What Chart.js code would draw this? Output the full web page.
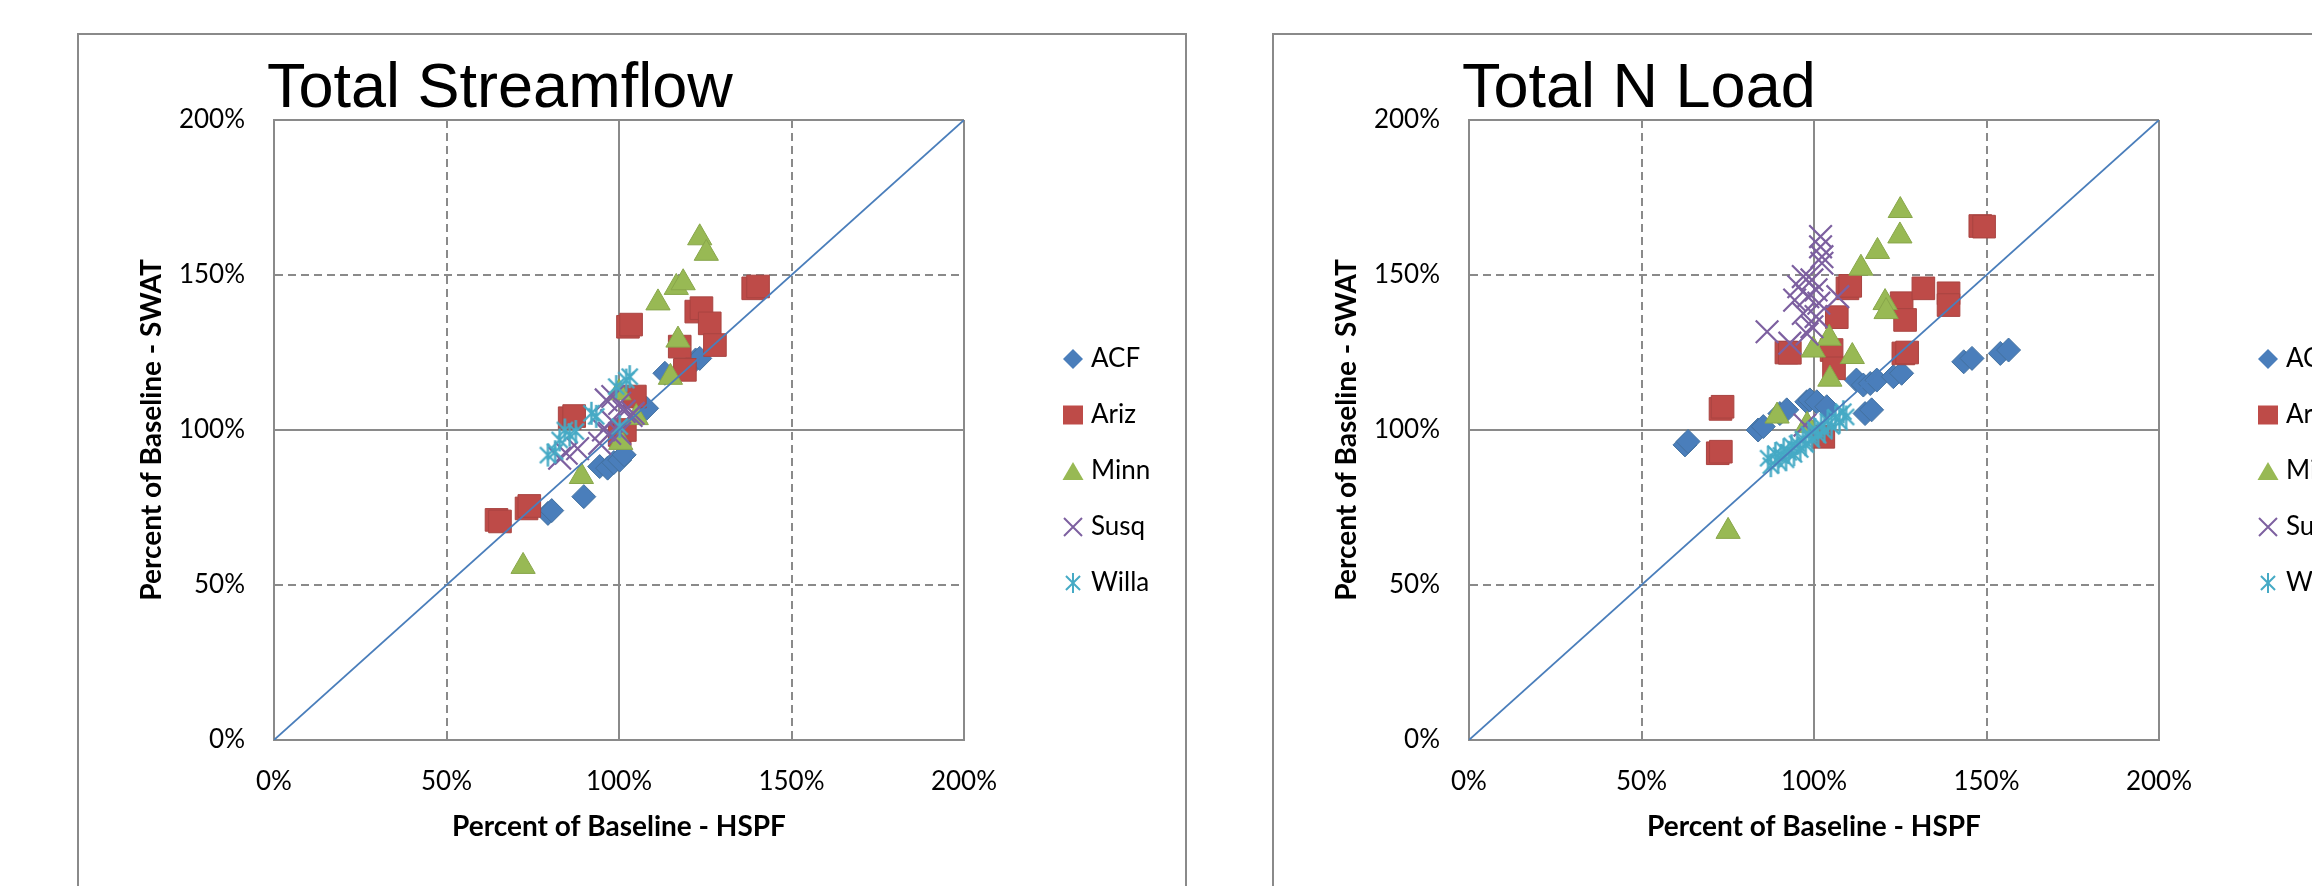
<!DOCTYPE html>
<html>
<head>
<meta charset="utf-8">
<script src="https://cdn.jsdelivr.net/npm/chart.js@4.4.1/dist/chart.umd.min.js"></script>
<style>
  html, body { margin: 0; padding: 0; background: #fff; width: 2312px; height: 886px; overflow: hidden; position: relative; }
  .frame { position: absolute; top: 33px; width: 1110px; height: 900px; border: 2px solid #8a8a8a; box-sizing: border-box; }
  canvas { position: absolute; top: 36px; }
</style>
</head>
<body>
<div class="frame" style="left:77px"></div>
<canvas id="flow" width="1104" height="870" style="left:80px"></canvas>
<div class="frame" style="left:1272px"></div>
<canvas id="nload" width="1104" height="870" style="left:1275px"></canvas>

<script>
// Axis ticks (percent of baseline) shared by both panels
const TICK_VALUES = [0, 50, 100, 150, 200];
const SERIES = ['ACF', 'Ariz', 'Minn', 'Susq', 'Willa'];
const ONE_TO_ONE = [[0, 0], [200, 200]];

// Total streamflow: [HSPF %, SWAT %]
const flowACF = [[79.4,73.1],[80.5,74.0],[89.8,78.5],[94.4,88.2],[96.7,87.7],[98.5,89.5],[100.2,90.3],[101.5,92.0],[106.8,107.8],[108.0,107.0],[113.3,118.3],[122.2,122.6],[123.4,123.1]];
const flowAriz = [[64.5,71.0],[65.5,70.5],[73.2,74.7],[74.0,75.5],[85.7,103.8],[87.0,104.5],[100.2,98.4],[101.7,100.0],[104.6,110.8],[102.6,133.3],[103.5,134.0],[117.6,126.9],[119.1,119.4],[122.4,138.2],[123.9,139.3],[126.3,134.4],[127.8,127.4],[138.9,145.7],[140.3,146.3]];
const flowMinn = [[72.2,56.0],[89.1,85.0],[100.5,96.0],[105.0,104.0],[100.0,112.0],[114.9,117.0],[117.1,129.0],[111.3,141.0],[116.6,146.0],[118.6,147.5],[123.4,162.0],[125.3,157.0]];
const flowSusq = [[82.8,90.9],[84.7,92.5],[88.0,94.0],[94.4,95.7],[95.5,100.0],[97.3,98.9],[100.2,98.9],[96.3,109.7],[98.2,110.8],[100.2,108.6],[101.5,106.0],[104.1,105.4],[103.5,104.7],[97.9,103.0]];
const flowWilla = [[79.4,91.9],[81.5,93.0],[82.8,96.8],[84.3,100.0],[85.7,98.4],[87.5,99.5],[92.0,105.4],[93.4,104.4],[100.2,101.1],[99.2,114.0],[102.1,116.1],[103.1,117.2]];

// Total N load: [HSPF %, SWAT %]
const nloadACF = [[62.6,95.2],[63.5,96.3],[83.8,100.0],[85.3,101.1],[90.1,105.3],[92.1,106.5],[97.9,109.1],[98.8,109.7],[100.8,109.1],[103.7,107.5],[112.3,116.1],[114.3,114.5],[114.8,105.3],[116.7,106.5],[116.3,115.0],[118.2,116.1],[123.0,117.2],[125.4,118.3],[143.4,122.0],[145.8,123.1],[154.0,124.7],[156.4,125.8]];
const nloadAriz = [[72.1,92.5],[73.0,93.0],[72.9,106.8],[73.5,107.5],[92.0,125.0],[93.0,124.9],[102.7,97.8],[105.1,125.8],[105.8,119.9],[106.6,136.4],[109.7,145.7],[110.5,146.5],[125.4,140.9],[126.4,135.5],[125.9,124.7],[127.0,125.0],[131.7,145.7],[139.0,144.1],[139.0,140.3],[148.2,165.8],[149.3,165.6]];
const nloadMinn = [[75.1,67.3],[89.3,104.5],[98.0,101.5],[99.8,125.8],[104.4,129.6],[104.6,116.4],[111.1,123.7],[113.6,152.2],[118.4,157.6],[120.6,141.1],[120.9,138.2],[124.9,162.6],[125.0,170.8]];
const nloadSusq = [[86.4,131.7],[93.0,128.0],[94.4,141.9],[95.6,146.2],[96.9,149.5],[96.9,137.6],[98.2,143.0],[99.4,148.4],[99.4,133.3],[100.6,145.2],[100.6,136.6],[101.4,140.9],[101.9,162.4],[101.9,159.1],[102.3,155.9],[102.3,153.8],[106.9,143.0],[98.0,131.0],[97.4,101.6]];
const nloadWilla = [[86.7,90.9],[87.5,88.5],[88.8,92.4],[89.6,89.7],[90.4,91.8],[91.2,93.6],[91.9,90.4],[92.7,92.8],[93.5,94.9],[94.2,92.1],[95.1,95.6],[96.0,93.7],[96.8,97.1],[97.6,95.3],[98.5,98.6],[99.4,96.8],[100.3,100.2],[101.2,98.3],[102.1,101.4],[103.0,99.6],[104.0,102.9],[105.1,101.2],[106.2,104.1],[107.4,102.6],[108.5,105.9],[109.3,104.2]];

const COLORS = { ACF: '#4A7EBB', Ariz: '#BE4B48', Minn: '#98B954', Susq: '#7D60A0', Willa: '#46AAC5', line: '#4A7EBB' };
const EDGES  = { ACF: '#43719f', Ariz: '#a94441', Minn: '#88a64a', Susq: '#7D60A0', Willa: '#46AAC5' };
const GRID = '#8a8a8a';
const TICK_FONT = { family: 'Lato, "Open Sans", sans-serif', size: 26 };
const AXIS_TITLE_FONT = { family: 'Lato, "Open Sans", sans-serif', size: 28, weight: 'bold' };

// Excel-style asterisk marker: vertical bar plus an X
function starMarker(size, color, width) {
  const c = document.createElement('canvas');
  c.width = size; c.height = size;
  const g = c.getContext('2d');
  g.strokeStyle = color; g.lineWidth = width; g.lineCap = 'butt';
  const m = size / 2, e = 1, d = size * 0.18;
  g.beginPath();
  g.moveTo(m, e); g.lineTo(m, size - e);
  g.moveTo(d, d); g.lineTo(size - d, size - d);
  g.moveTo(size - d, d); g.lineTo(d, size - d);
  g.stroke();
  return c;
}

// Legend swatches
function legendIcon(name) {
  const c = document.createElement('canvas');
  c.width = 22; c.height = 22;
  const g = c.getContext('2d');
  const col = COLORS[name];
  g.fillStyle = col; g.strokeStyle = col; g.lineWidth = 2;
  g.beginPath();
  if (name === 'ACF') { g.moveTo(11, 1); g.lineTo(21, 11); g.lineTo(11, 21); g.lineTo(1, 11); g.closePath(); g.fill(); }
  else if (name === 'Ariz') { g.rect(1, 1.5, 20, 19); g.fill(); }
  else if (name === 'Minn') { g.moveTo(11, 2); g.lineTo(21.5, 20); g.lineTo(0.5, 20); g.closePath(); g.fill(); }
  else if (name === 'Susq') { g.moveTo(2, 2); g.lineTo(20, 20); g.moveTo(20, 2); g.lineTo(2, 20); g.stroke(); }
  else { return starMarker(22, col, 2); }
  return c;
}

const MARKERS = {
  ACF:   { pointStyle: 'rectRot', pointRadius: 12, borderWidth: 1 },
  Ariz:  { pointStyle: 'rect', pointRadius: 16, borderWidth: 1 },
  Minn:  { pointStyle: 'triangle', pointRadius: 14, borderWidth: 1 },
  Susq:  { pointStyle: 'crossRot', pointRadius: 16, borderWidth: 2.2 },
  Willa: { pointStyle: starMarker(25, COLORS.Willa, 2.4), pointRadius: 12, borderWidth: 2 }
};
// drawing order: ACF at the bottom, Willa above, reference line on top
const DRAW_ORDER = { ACF: 5, Ariz: 4, Minn: 3, Susq: 2, Willa: 1 };

const toXY = rows => rows.map(([x, y]) => ({ x, y }));

// legend width as Chart.js computes it (padding + box + gap + widest label + 10)
function legendWidth() {
  const g = document.createElement('canvas').getContext('2d');
  g.font = TICK_FONT.size + 'px ' + TICK_FONT.family;
  const widest = Math.max(...SERIES.map(s => g.measureText(s).width));
  return 30 + 10 + TICK_FONT.size / 2 + widest + 10;
}

// pull the title a little left of the plot edge
const titleNudge = {
  id: 'titleNudge',
  afterLayout(chart) {
    const t = chart.titleBlock;
    if (t) { t.left -= 7; t.right -= 7; }
  }
};

function buildChart(id, title, groups) {
  const datasets = SERIES.map((name, i) => ({
    label: name,
    data: toXY(groups[i]),
    backgroundColor: COLORS[name],
    borderColor: EDGES[name],
    pointStyle: MARKERS[name].pointStyle,
    pointRadius: MARKERS[name].pointRadius,
    pointHoverRadius: MARKERS[name].pointRadius,
    pointBorderWidth: MARKERS[name].borderWidth,
    showLine: false,
    order: DRAW_ORDER[name]
  }));
  datasets.push({
    label: '1:1',
    data: toXY(ONE_TO_ONE),
    showLine: true,
    borderColor: COLORS.line,
    borderWidth: 1.75,
    pointRadius: 0,
    pointHoverRadius: 0,
    fill: false,
    order: 0
  });

  const dashed = ctx => (ctx.tick && (ctx.tick.value === 50 || ctx.tick.value === 150)) ? [8, 5] : [];
  const useTicks = axis => { axis.ticks = TICK_VALUES.map(v => ({ value: v })); };
  // canvas 1104 wide = 194 y-axis + 690 plot + 74 gap + legend + right margin
  const rightPad = 1104 - 194 - 690 - 74 - legendWidth();

  return new Chart(document.getElementById(id), {
    type: 'scatter',
    data: { datasets },
    plugins: [titleNudge],
    options: {
      responsive: false,
      animation: false,
      devicePixelRatio: 1,
      events: [],
      layout: { padding: { left: 0, right: rightPad, top: 0, bottom: 0 } },
      plugins: {
        title: {
          display: true, text: title, align: 'start', fullSize: false, color: '#000',
          font: { family: '"Liberation Sans", Arial, sans-serif', size: 63, weight: 'normal', lineHeight: '60px' },
          padding: { top: 24, bottom: 0 }
        },
        legend: {
          position: 'right',
          labels: {
            usePointStyle: true, boxWidth: 10, padding: 30, color: '#000', font: TICK_FONT,
            generateLabels: chart => SERIES.map((name, i) => ({
              text: name, pointStyle: legendIcon(name), fillStyle: COLORS[name],
              strokeStyle: COLORS[name], lineWidth: 0, hidden: false, datasetIndex: i, fontColor: '#000'
            }))
          }
        },
        tooltip: { enabled: false }
      },
      scales: {
        x: {
          type: 'linear', position: 'bottom', min: 0, max: 200,
          afterBuildTicks: useTicks,
          afterFit: s => { s.height = 166; },
          ticks: { padding: 26, color: '#000', font: TICK_FONT, callback: v => v + '%' },
          grid: { color: GRID, lineWidth: 2, drawTicks: false },
          border: { color: GRID, width: 2, dash: dashed },
          title: { display: true, text: 'Percent of Baseline - HSPF', color: '#000', font: AXIS_TITLE_FONT, padding: { top: 0, bottom: 62 } }
        },
        y: {
          type: 'linear', position: 'left', min: 0, max: 200,
          afterBuildTicks: useTicks,
          afterFit: s => { s.width = 194; },
          ticks: { padding: 29, color: '#000', font: TICK_FONT, callback: v => v + '%' },
          grid: { color: GRID, lineWidth: 2, drawTicks: false },
          border: { color: GRID, width: 2, dash: dashed },
          title: { display: true, text: 'Percent of Baseline - SWAT', color: '#000', font: AXIS_TITLE_FONT, padding: { top: 55, bottom: 0 } }
        },
        legendGap: {
          type: 'linear', position: 'right', display: true,
          afterFit: s => { s.width = 74; },
          ticks: { display: false },
          grid: { display: false, drawTicks: false },
          border: { display: false }
        }
      }
    }
  });
}

buildChart('flow', 'Total Streamflow', [flowACF, flowAriz, flowMinn, flowSusq, flowWilla]);
buildChart('nload', 'Total N Load', [nloadACF, nloadAriz, nloadMinn, nloadSusq, nloadWilla]);
</script>
</body>
</html>
